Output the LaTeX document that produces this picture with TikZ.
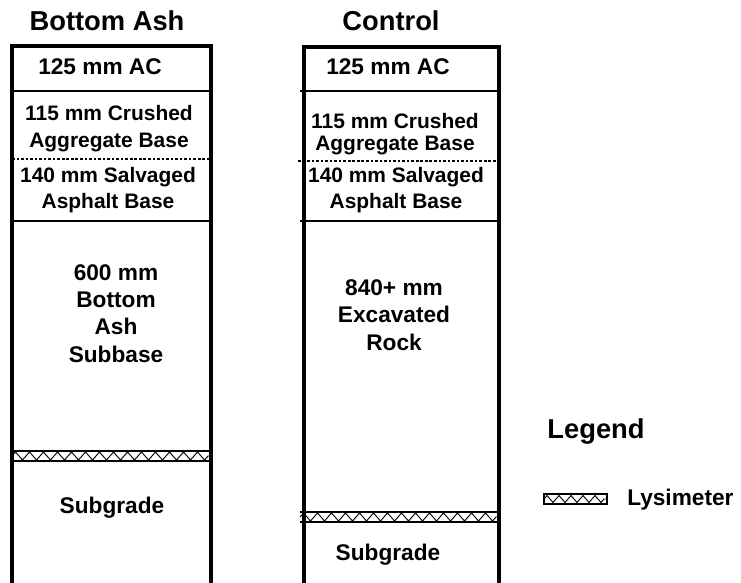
\documentclass[tikz,border=0pt]{standalone}
\usepackage{fontspec}
\setmainfont{Liberation Sans}
\usetikzlibrary{positioning,decorations.pathmorphing}

\tikzset{
  coltitle/.style={font=\fontsize{20.5}{24}\selectfont\bfseries, anchor=base, inner sep=0pt},
  biglabel/.style={font=\fontsize{17}{20.5}\selectfont\bfseries, align=center, anchor=base, inner sep=0pt},
  smalllabel/.style={font=\fontsize{15.7}{19}\selectfont\bfseries, align=center, anchor=base, inner sep=0pt},
  wall/.style={line width=2.6pt},
  layerline/.style={line width=2.1pt},
  seamline/.style={line width=1.6pt, dash pattern=on 2pt off 1.4pt},
  lysedge/.style={line width=2pt},
  lysfill/.style={line width=0.7pt, decorate,
    decoration={zigzag, segment length=10.5pt, amplitude=3pt}},
}

\begin{document}
\begin{tikzpicture}[x=0.75pt,y=-0.75pt]
\useasboundingbox (0,0) rectangle (741,582);

% column titles
\node[coltitle] (ttlash)  at (107,30) {Bottom Ash};
\node[coltitle] (ttlctrl) at (391,30) {Control};

% bottom ash section
\draw[wall] (12,585) -- (12,46) -- (211,46) -- (211,585);
\draw[layerline] (12,91) -- (209,91);
\draw[seamline] (12,159) -- (211,159);
\draw[layerline] (12,221) -- (209,221);
\draw[lysedge] (12,451) -- (211,451) (12,461) -- (211,461);
\draw[lysfill] (12,456) -- (211,456);

\node[biglabel] (acash) at (100,74) {125 mm AC};
\node[smalllabel, font=\fontsize{15.7}{20.2}\selectfont\bfseries]
  (cabash) at (109,147) {115 mm Crushed\\Aggregate Base};
\node[smalllabel] (sabash) at (108,208) {140 mm Salvaged\\Asphalt Base};
\node[biglabel] (subash) at (116,362) {600 mm\\Bottom\\Ash\\Subbase};
\node[biglabel] (sgash) at (112,513) {Subgrade};

% control section
\draw[wall] (304,585) -- (304,47) -- (499,47) -- (499,585);
\draw[layerline] (300,91) -- (497,91);
\draw[seamline] (298,161) -- (499,161);
\draw[layerline] (300,221) -- (497,221);
\draw[lysedge] (300,512) -- (499,512) (300,522) -- (499,522);
\draw[lysfill] (300,517) -- (499,517);

\node[biglabel] (acctrl) at (388,74) {125 mm AC};
\node[smalllabel, font=\fontsize{15.7}{16.5}\selectfont\bfseries]
  (cabctrl) at (395,150) {115 mm Crushed\\Aggregate Base};
\node[smalllabel] (sabctrl) at (396,208) {140 mm Salvaged\\Asphalt Base};
\node[biglabel] (subctrl) at (394,350) {840+ mm\\Excavated\\Rock};
\node[biglabel] (sgctrl) at (388,560) {Subgrade};

% legend
\node[coltitle] (lgdtitle) at (596,438) {Legend};
\draw[lysedge, line width=1.3pt] (544,494) rectangle (607,504);
\draw[lysfill, decoration={segment length=9pt, amplitude=2.6pt}] (544,499) -- (607,499);
\node[biglabel, anchor=base west] (lgdlys) at (627,505) {Lysimeter};
\end{tikzpicture}
\end{document}
